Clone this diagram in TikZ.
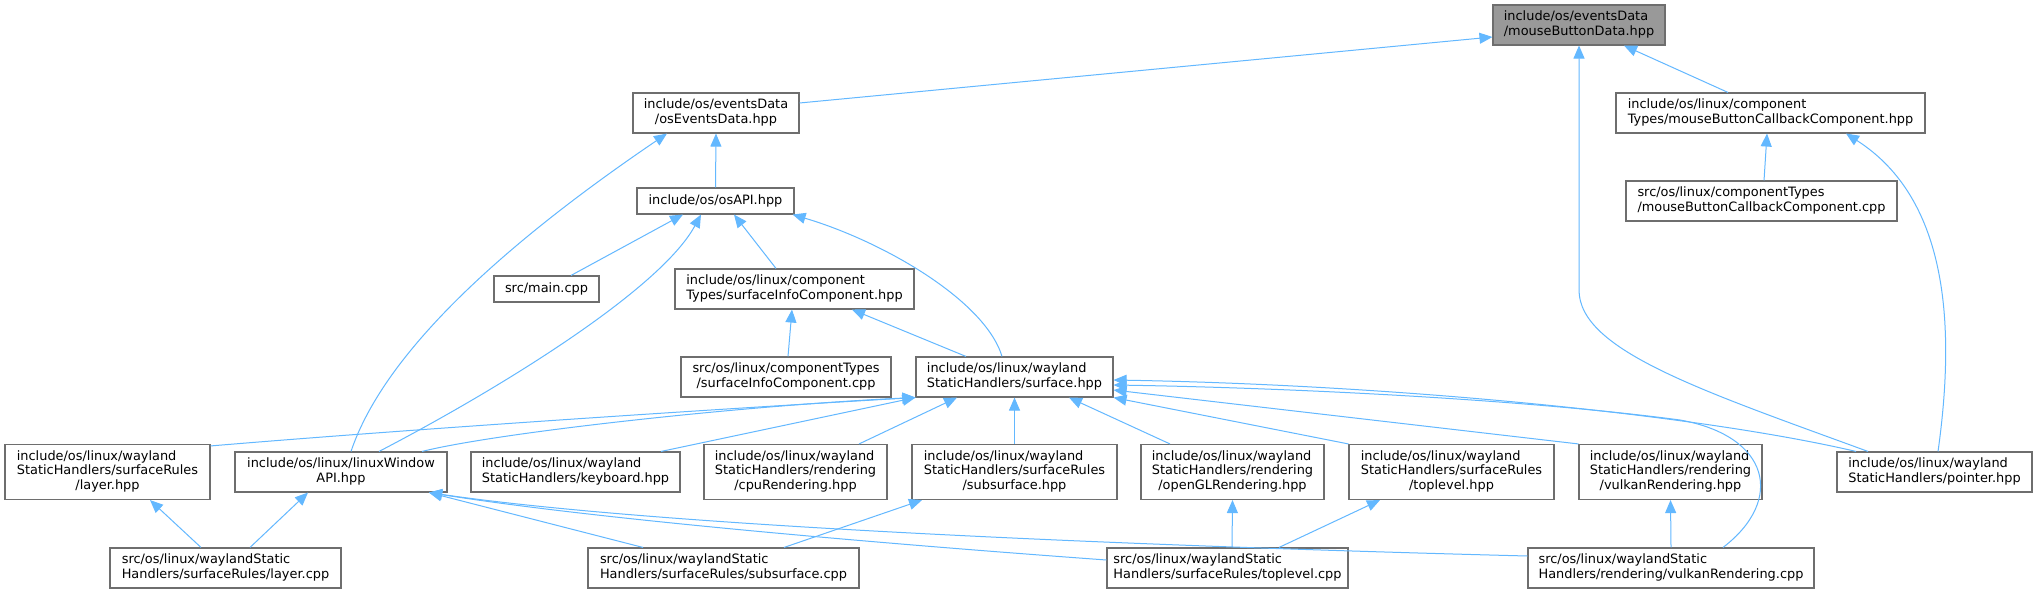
\documentclass[tikz,border=0pt]{standalone}
\usepackage{fontspec}
\setmainfont{DejaVu Sans}
\usetikzlibrary{arrows.meta, calc}
\definecolor{edgeblue}{HTML}{63B8FF}
\definecolor{boxline}{HTML}{6E6E6E}
\definecolor{curfill}{HTML}{999999}
% label: left aligned lines, last line centred
\newcommand{\flbl}[2]{\begin{tabular}{@{}l@{}}#1\\\multicolumn{1}{@{}c@{}}{#2}\end{tabular}}
\tikzset{
  file/.style={draw=boxline, fill=white, line width=0.55pt, inner sep=0pt,
    font=\fontsize{6.45}{7.35}\selectfont},
  cur/.style={file, fill=curfill},
  oneline/.style={minimum height=13pt},
  twoline/.style={minimum height=20pt},
  threeline/.style={minimum height=27.5pt},
  incl/.style={draw=edgeblue, line width=0.5pt, -{Triangle[length=6.5pt, width=5.5pt]}}
}
\begin{document}
\begin{tikzpicture}[x=0.5pt, y=-0.5pt]
  \fill[white] (0,0) rectangle (2037,593);
  \useasboundingbox (0,0) rectangle (2037,593);
  % top rows
  \node[cur, twoline, minimum width=86pt] (mbd) at (1579,25) {\flbl{include/os/eventsData}{/mouseButtonData.hpp}};
  \node[file, twoline, minimum width=83pt] (oed) at (716,113) {\flbl{include/os/eventsData}{/osEventsData.hpp}};
  \node[file, twoline, minimum width=154.5pt] (mbcch) at (1770.5,113) {\flbl{include/os/linux/component}{Types/mouseButtonCallbackComponent.hpp}};
  \node[file, oneline, minimum width=78.5pt] (osapi) at (715.5,201) {include/os/osAPI.hpp};
  \node[file, twoline, minimum width=135.5pt] (mbccc) at (1761.5,201) {\flbl{src/os/linux/componentTypes}{/mouseButtonCallbackComponent.cpp}};
  \node[file, oneline, minimum width=52.5pt] (main) at (546.5,289) {src/main.cpp};
  \node[file, twoline, minimum width=119.5pt] (sich) at (794.5,289) {\flbl{include/os/linux/component}{Types/surfaceInfoComponent.hpp}};
  \node[file, twoline, minimum width=105pt] (sicc) at (786,377) {\flbl{src/os/linux/componentTypes}{/surfaceInfoComponent.cpp}};
  \node[file, twoline, minimum width=98.5pt] (surf) at (1014.5,377) {\flbl{include/os/linux/wayland}{StaticHandlers/surface.hpp}};
  % headers row
  \node[file, threeline, minimum width=102.5pt] (layerh) at (107.5,472) {\flbl{include/os/linux/wayland\\StaticHandlers/surfaceRules}{/layer.hpp}};
  \node[file, twoline, minimum width=106pt] (lwapi) at (341,472) {\flbl{include/os/linux/linuxWindow}{API.hpp}};
  \node[file, twoline, minimum width=104.5pt] (kbd) at (575.5,472) {\flbl{include/os/linux/wayland}{StaticHandlers/keyboard.hpp}};
  \node[file, threeline, minimum width=91.5pt] (cpu) at (795.5,472) {\flbl{include/os/linux/wayland\\StaticHandlers/rendering}{/cpuRendering.hpp}};
  \node[file, threeline, minimum width=102.5pt] (subh) at (1014.5,472) {\flbl{include/os/linux/wayland\\StaticHandlers/surfaceRules}{/subsurface.hpp}};
  \node[file, threeline, minimum width=91.5pt] (ogl) at (1232.5,472) {\flbl{include/os/linux/wayland\\StaticHandlers/rendering}{/openGLRendering.hpp}};
  \node[file, threeline, minimum width=102.5pt] (toph) at (1451.5,472) {\flbl{include/os/linux/wayland\\StaticHandlers/surfaceRules}{/toplevel.hpp}};
  \node[file, threeline, minimum width=91.5pt] (vkh) at (1670.5,472) {\flbl{include/os/linux/wayland\\StaticHandlers/rendering}{/vulkanRendering.hpp}};
  \node[file, twoline, minimum width=97.5pt] (ptr) at (1934.5,472) {\flbl{include/os/linux/wayland}{StaticHandlers/pointer.hpp}};
  % sources row
  \node[file, twoline, minimum width=115.5pt] (layerc) at (225.5,568) {\flbl{src/os/linux/waylandStatic}{Handlers/surfaceRules/layer.cpp}};
  \node[file, twoline, minimum width=135.5pt] (subc) at (723.5,568) {\flbl{src/os/linux/waylandStatic}{Handlers/surfaceRules/subsurface.cpp}};
  \node[file, twoline, minimum width=120.5pt] (topc) at (1227.5,568) {\flbl{src/os/linux/waylandStatic}{Handlers/surfaceRules/toplevel.cpp}};
  \node[file, twoline, minimum width=143pt] (vkc) at (1671,568) {\flbl{src/os/linux/waylandStatic}{Handlers/rendering/vulkanRendering.cpp}};
  % edges into mouseButtonData
  \draw[incl] ($(oed.east)+(0,-10)$) -- ($(mbd.west)+(0,12)$);
  \draw[incl] ($(mbcch.north)+(-42.5,0)$) -- ($(mbd.south)+(45,0)$);
  \draw[incl] ($(ptr.north)+(-66.5,0)$) .. controls (1700,390) and (1579,350) .. (1579,290) -- (mbd.south);
  % edges into osEventsData and the callback component
  \draw[incl] (osapi.north) -- (oed.south);
  \draw[incl] ($(lwapi.north)+(10,0)$) .. controls (385,350) and (510,240) .. ($(oed.south)+(-49,0)$);
  \draw[incl] ($(mbccc.north)+(2.5,0)$) -- ($(mbcch.south)+(-3.5,0)$);
  \draw[incl] ($(ptr.north)+(3.5,0)$) .. controls (1955,330) and (1950,200) .. ($(mbcch.south)+(75.5,0)$);
  % edges into osAPI
  \draw[incl] ($(main.north)+(24.5,0)$) -- ($(osapi.south)+(-32.5,0)$);
  \draw[incl] ($(lwapi.north)+(38,0)$) .. controls (499,389) and (660,290) .. ($(osapi.south)+(-14.5,0)$);
  \draw[incl] ($(sich.north)+(-18.5,0)$) -- ($(osapi.south)+(18.5,0)$);
  \draw[incl] ($(surf.north)+(-12.5,0)$) .. controls (985,300) and (882,241) .. ($(osapi.south east)+(-2,0)$);
  % edges into surfaceInfoComponent
  \draw[incl] ($(sicc.north)+(2,0)$) -- ($(sich.south)+(-2.5,0)$);
  \draw[incl] ($(surf.north)+(-48.5,0)$) -- ($(sich.south)+(57.5,0)$);
  % edges into surface.hpp
  \draw[incl] ($(layerh.north east)+(0,2)$) .. controls (400,430) and (700,410) .. (surf.south west);
  \draw[incl] ($(lwapi.north)+(81,0)$) .. controls (500,432) and (750,405) .. (surf.south west);
  \draw[incl] ($(kbd.north)+(85.5,0)$) -- (surf.south west);
  \draw[incl] ($(cpu.north)+(63.5,0)$) -- ($(surf.south)+(-57.5,0)$);
  \draw[incl] (subh.north) -- (surf.south);
  \draw[incl] ($(ogl.north)+(-62.5,0)$) -- ($(surf.south)+(54.5,0)$);
  \draw[incl] (toph.north west) -- (surf.south east);
  \draw[incl] (vkh.north west) -- ($(surf.east)+(0,13)$);
  \draw[incl] ($(ptr.north)+(-78.5,0)$) .. controls (1700,415) and (1400,385) .. ($(surf.east)+(0,3)$);
  \draw[incl] ($(vkc.north)+(52,0)$) .. controls (1785,500) and (1770,436) .. (1680,420)
    .. controls (1530,400) and (1300,388) .. ($(surf.east)+(0,8)$);
  % bottom row edges
  \draw[incl] ($(layerc.north)+(-24.5,0)$) -- ($(layerh.south)+(42.5,0)$);
  \draw[incl] ($(layerc.north)+(24.5,0)$) -- ($(lwapi.south)+(-33,0)$);
  \draw[incl] ($(subc.north)+(-80.5,0)$) -- ($(lwapi.south)+(88,0)$);
  \draw[incl] ($(topc.west)+(0,-8)$) .. controls (900,545) and (600,520) .. ($(lwapi.south)+(88,0)$);
  \draw[incl] ($(vkc.west)+(0,-12)$) .. controls (1100,545) and (650,525) .. ($(lwapi.south)+(88,0)$);
  \draw[incl] ($(subc.north)+(60.5,0)$) -- ($(subh.south)+(-92.5,0)$);
  \draw[incl] ($(topc.north)+(4.5,0)$) -- (ogl.south);
  \draw[incl] ($(topc.north)+(51.5,0)$) -- ($(toph.south)+(-71.5,0)$);
  \draw[incl] (vkc.north) -- (vkh.south);
\end{tikzpicture}
\end{document}
